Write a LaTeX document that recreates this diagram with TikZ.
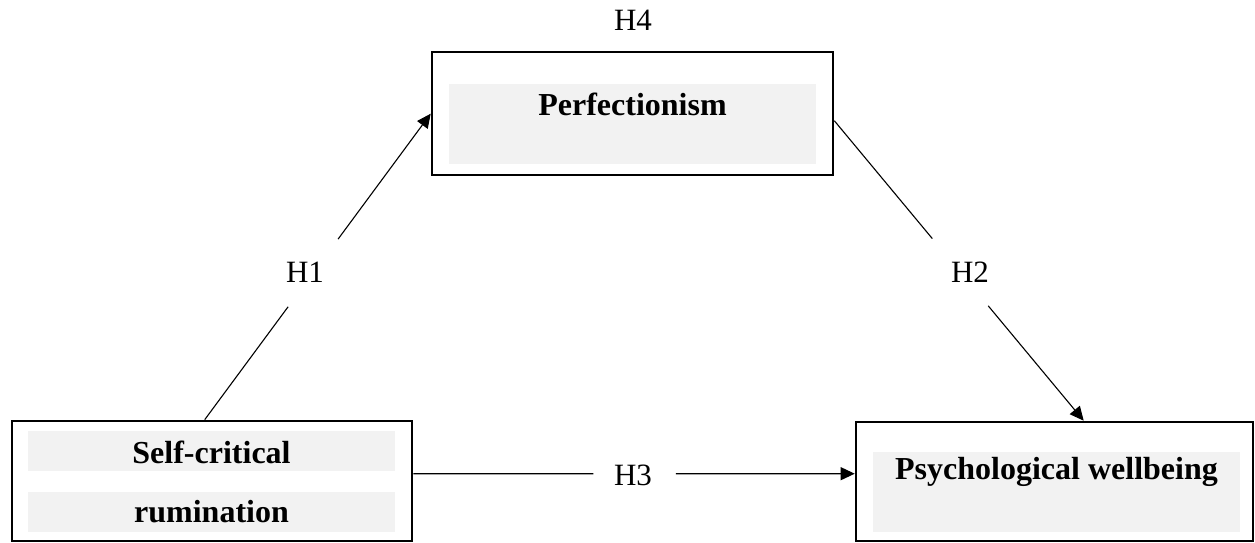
\documentclass[tikz,border=0pt]{standalone}
\usepackage{fontspec}
\setmainfont{Liberation Serif}
\usetikzlibrary{arrows.meta,calc}
\definecolor{boxgray}{HTML}{F2F2F2}
\begin{document}
\begin{tikzpicture}[x=1pt,y=-1pt,
  outerbox/.style={draw=black,line width=2.6pt,minimum width=#1,inner sep=0pt},
  graystrip/.style={fill=boxgray,draw=none},
  boxtext/.style={font=\fontsize{32}{36}\selectfont\bfseries,inner sep=0pt},
  hlabel/.style={font=\fontsize{31}{34}\selectfont,inner sep=0pt},
  conn/.style={line width=1.1pt},
  arrowconn/.style={conn,-{Triangle[length=14pt,width=13pt]}}]
\useasboundingbox (0,0) rectangle (1255,543);
% boxes
\node[outerbox=401pt,minimum height=123pt] (perf) at (632.5,113.5) {};
\node[outerbox=400pt,minimum height=120pt] (self) at (212,481) {};
\node[outerbox=397pt,minimum height=119pt] (psych) at (1054.5,481.5) {};
% gray inner areas
\fill[graystrip] (449,84) rectangle (816,164);
\fill[graystrip] (28,431) rectangle (395,471);
\fill[graystrip] (28,492) rectangle (395,532);
\fill[graystrip] (873,452) rectangle (1240,532);
% texts
\node[boxtext] (perftext) at (632.5,104) {Perfectionism};
\node[boxtext] (selftext1) at (211.5,452) {Self-critical};
\node[boxtext] (selftext2) at (211.5,512) {rumination};
\node[boxtext] (psychtext) at (1056.5,472) {Psychological wellbeing};
% labels
\node[hlabel] (h4) at (633,20) {H4};
\node[hlabel] (h1) at (305,272) {H1};
\node[hlabel] (h2) at (970,272) {H2};
\node[hlabel] (h3) at (633,475) {H3};
% connector end points
\coordinate (s1) at ($(self.north west)+(194,0)$);
\coordinate (e1) at ($(perf.north west)+(0,63)$);
\coordinate (s2) at ($(perf.north east)+(0,70)$);
\coordinate (e2) at ($(psych.north west)+(229,0)$);
\coordinate (s3) at ($(self.north east)+(0,54)$);
\coordinate (e3) at ($(psych.north west)+(0,53)$);
% connectors, broken around the labels
\draw[conn] (s1) -- ($(s1)!0.369!(e1)$);
\draw[arrowconn] ($(s1)!0.59!(e1)$) -- (e1);
\draw[conn] (s2) -- ($(s2)!0.393!(e2)$);
\draw[arrowconn] ($(s2)!0.617!(e2)$) -- (e2);
\draw[conn] (s3) -- ($(s3)!0.408!(e3)$);
\draw[arrowconn] ($(s3)!0.595!(e3)$) -- (e3);
\end{tikzpicture}
\end{document}
